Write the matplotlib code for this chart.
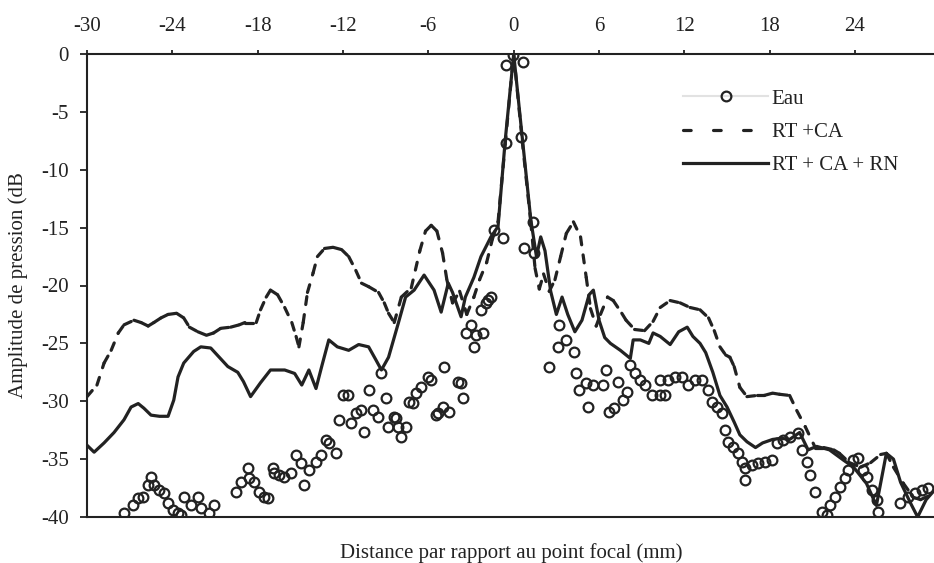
import numpy as np
import matplotlib
matplotlib.use("Agg")
import matplotlib.pyplot as plt
from matplotlib.collections import LineCollection
from matplotlib.lines import Line2D

# ------------------------------------------------------------------
# données (distance en mm, amplitude en dB)
# ------------------------------------------------------------------
x_eau = [-27.37, -26.74, -26.39, -26.04, -25.68, -25.47, -25.26, -24.91, -24.56, -24.28,
         -23.93, -23.58, -23.37, -23.16, -22.67, -22.18, -21.96, -21.40, -21.05, -19.51,
         -19.16, -18.67, -18.60, -18.25, -17.89, -17.54, -17.26, -16.91, -16.84, -16.49,
         -16.14, -15.65, -15.30, -14.95, -14.74, -14.39, -13.89, -13.54, -13.19, -12.98,
         -12.49, -12.28, -12.00, -11.65, -11.44, -11.09, -10.74, -10.53, -10.18, -9.89,
         -9.54, -9.33, -8.98, -8.84, -8.42, -8.28, -8.14, -7.93, -7.58, -7.37,
         -7.09, -6.88, -6.53, -6.04, -5.82, -5.47, -5.33, -4.98, -4.91, -4.56,
         -3.93, -3.72, -3.58, -3.37, -3.02, -2.81, -2.67, -2.32, -2.18, -1.96,
         -1.82, -1.61, -1.40, -0.77, -0.56, -0.56, -0.07, 0.49, 0.63, 0.70,
         1.33, 1.40, 2.46, 3.09, 3.16, 3.65, 4.21, 4.35, 4.56, 5.05,
         5.19, 5.61, 6.25, 6.46, 6.67, 7.02, 7.30, 7.65, 8.00, 8.21,
         8.56, 8.91, 9.26, 9.75, 10.32, 10.32, 10.67, 10.88, 11.37, 11.86,
         12.28, 12.77, 13.26, 13.68, 13.96, 14.32, 14.67, 14.88, 15.09, 15.44,
         15.79, 16.07, 16.28, 16.28, 16.77, 17.19, 17.68, 18.18, 18.53, 18.95,
         19.44, 20.00, 20.28, 20.63, 20.84, 21.19, 21.68, 22.04, 22.25, 22.60,
         22.95, 23.30, 23.51, 23.86, 24.21, 24.56, 24.84, 25.19, 25.54, 25.61,
         27.16, 27.72, 28.21, 28.70, 29.12]
y_eau = [-39.65, -38.96, -38.36, -38.27, -37.24, -36.54, -37.24, -37.67, -37.93, -38.79,
         -39.40, -39.65, -39.83, -38.27, -38.96, -38.27, -39.22, -39.65, -38.96, -37.84,
         -36.98, -35.77, -36.63, -36.98, -37.84, -38.27, -38.36, -35.77, -36.20, -36.37,
         -36.54, -36.20, -34.64, -35.33, -37.24, -35.94, -35.25, -34.64, -33.35, -33.61,
         -34.47, -31.62, -29.46, -29.46, -31.88, -31.02, -30.76, -32.66, -29.03, -30.76,
         -31.36, -27.56, -29.72, -32.22, -31.36, -31.45, -32.22, -33.09, -32.22, -30.06,
         -30.15, -29.29, -28.77, -27.91, -28.16, -31.19, -31.02, -30.50, -27.04, -30.93,
         -28.34, -28.40, -29.72, -24.10, -23.41, -25.31, -24.28, -22.12, -24.10, -21.51,
         -21.25, -20.99, -15.21, -15.90, -7.69, -0.95, -0.09, -7.17, -0.69, -16.76,
         -14.51, -17.19, -27.04, -25.31, -23.41, -24.71, -25.75, -27.56, -29.03, -28.42,
         -30.50, -28.60, -28.60, -27.30, -30.93, -30.58, -28.34, -29.89, -29.20, -26.87,
         -27.56, -28.16, -28.60, -29.46, -28.16, -29.46, -29.46, -28.16, -27.91, -27.91,
         -28.60, -28.16, -28.16, -29.03, -30.06, -30.50, -31.02, -32.48, -33.52, -33.95,
         -34.47, -35.25, -35.77, -36.80, -35.51, -35.33, -35.25, -35.08, -33.61, -33.35,
         -33.09, -32.74, -34.21, -35.25, -36.37, -37.84, -39.57, -39.83, -38.96, -38.27,
         -37.41, -36.63, -35.94, -35.08, -34.90, -35.94, -36.54, -37.67, -38.53, -39.57,
         -38.79, -38.27, -37.93, -37.67, -37.49]

x_ca = [-30.0, -29.3, -28.8, -28.3, -27.8, -27.4, -26.7, -26.2, -25.7, -25.3,
        -24.8, -24.3, -23.7, -23.2, -22.8, -22.2, -21.6, -21.1, -20.6, -19.9,
        -19.3, -18.9, -18.1, -17.8, -17.4, -17.1, -16.6, -16.1, -15.6, -15.3,
        -15.1, -14.8, -14.5, -14.1, -13.8, -13.3, -12.7, -12.1, -11.6, -11.1,
        -10.7, -10.2, -9.5, -9.1, -8.8, -8.4, -7.9, -7.2, -6.6, -6.2,
        -5.8, -5.4, -5.0, -4.7, -4.3, -3.8, -3.3, -2.8, -2.4, -1.9,
        -1.5, -1.1, -0.6, 0.0, 0.6, 1.2, 1.5, 1.8, 2.1, 2.5,
        2.9, 3.3, 3.7, 4.2, 4.7, 5.1, 5.4, 5.8, 6.1, 6.6,
        7.0, 7.6, 7.9, 8.5, 9.2, 9.8, 10.3, 11.0, 11.7, 12.4,
        13.1, 13.7, 14.1, 14.5, 14.9, 15.2, 15.5, 15.9, 16.4, 17.1,
        17.6, 18.2, 18.7, 19.4, 19.9, 20.5, 21.2, 21.8, 22.5, 22.9,
        23.6, 24.4, 25.1, 25.8, 26.2, 26.7, 27.4, 28.1, 28.6, 29.5]
y_ca = [-29.6, -28.6, -26.7, -25.6, -24.1, -23.4, -23.0, -23.2, -23.5, -23.2,
        -22.8, -22.5, -22.4, -22.8, -23.6, -24.0, -24.3, -24.1, -23.7, -23.6,
        -23.4, -23.2, -23.2, -22.1, -21.0, -20.4, -20.8, -21.9, -23.2, -24.4,
        -25.3, -23.2, -20.6, -18.9, -17.5, -16.8, -16.7, -16.9, -17.5, -18.7,
        -19.8, -20.1, -20.6, -21.5, -22.4, -23.2, -21.0, -20.2, -17.0, -15.3,
        -14.8, -15.3, -17.2, -19.5, -21.5, -20.5, -22.5, -21.0, -19.5, -18.0,
        -16.0, -14.5, -7.8, 0.0, -7.5, -14.5, -18.5, -20.3, -19.0, -20.5,
        -19.5, -17.5, -15.5, -14.5, -15.8, -19.3, -22.0, -23.5, -22.5, -21.0,
        -21.3, -22.4, -23.0, -23.8, -23.9, -23.1, -21.9, -21.3, -21.5, -21.9,
        -22.1, -22.8, -23.9, -25.3, -26.0, -26.2, -27.0, -28.8, -29.6, -29.5,
        -29.5, -29.3, -29.4, -29.5, -30.8, -32.2, -34.0, -34.0, -34.2, -34.5,
        -35.3, -35.7, -35.3, -34.6, -34.5, -35.7, -37.1, -38.3, -38.5, -38.0]

x_rn = [-30.0, -29.5, -28.8, -28.1, -27.4, -26.9, -26.4, -26.0, -25.5, -24.9,
        -24.3, -23.9, -23.6, -23.2, -22.5, -22.0, -21.3, -20.7, -20.1, -19.4,
        -19.0, -18.5, -17.8, -17.1, -16.1, -15.4, -14.9, -14.4, -13.9, -13.5,
        -13.0, -12.4, -11.6, -10.9, -10.2, -9.7, -9.3, -8.8, -8.1, -7.6,
        -7.0, -6.3, -5.6, -5.1, -4.6, -4.3, -3.7, -3.4, -2.8, -2.3,
        -1.6, -1.1, -0.6, 0.0, 0.6, 1.2, 1.6, 1.9, 2.2, 2.6,
        3.0, 3.4, 3.8, 4.3, 4.8, 5.3, 5.6, 6.0, 6.4, 6.8,
        7.5, 8.2, 8.4, 8.9, 9.5, 9.8, 10.3, 11.0, 11.6, 12.2,
        12.6, 13.1, 13.5, 14.0, 14.5, 15.0, 15.5, 15.9, 16.4, 17.0,
        17.5, 18.2, 18.8, 19.4, 20.1, 20.7, 21.3, 22.2, 23.2, 23.9,
        24.8, 25.5, 26.2, 26.7, 27.2, 27.9, 28.4, 29.0, 29.5]
y_rn = [-33.8, -34.4, -33.6, -32.7, -31.6, -30.5, -30.2, -30.6, -31.2, -31.3,
        -31.3, -29.9, -27.9, -26.7, -25.7, -25.3, -25.4, -26.2, -27.0, -27.5,
        -28.3, -29.6, -28.4, -27.3, -27.3, -27.6, -28.6, -27.3, -28.9, -27.0,
        -24.7, -25.3, -25.6, -25.1, -25.3, -26.4, -27.3, -26.2, -23.2, -21.0,
        -20.4, -19.1, -20.4, -22.3, -19.8, -20.6, -22.7, -21.0, -19.3, -17.5,
        -15.8, -14.9, -7.5, 0.0, -7.2, -14.3, -17.5, -15.8, -17.0, -20.5,
        -22.5, -21.0, -22.5, -24.0, -23.0, -20.8, -20.4, -23.0, -24.5, -25.0,
        -25.6, -26.3, -24.7, -24.7, -25.0, -24.1, -24.4, -25.1, -24.0, -23.6,
        -24.4, -25.0, -25.8, -27.5, -29.5, -30.5, -31.8, -32.9, -33.5, -34.0,
        -33.6, -33.3, -33.2, -33.3, -32.7, -34.2, -33.9, -34.2, -35.1, -35.7,
        -37.1, -39.0, -34.5, -35.0, -37.0, -38.8, -40.0, -38.5, -37.8]

x_ticks = [-30, -24, -18, -12, -6, 0, 6, 12, 18, 24]
y_ticks = [0, -5, -10, -15, -20, -25, -30, -35, -40]
labels = ['Eau', 'RT +CA', 'RT + CA + RN']

# ------------------------------------------------------------------
plt.rcParams['font.family'] = ['Liberation Serif', 'DejaVu Serif']
plt.rcParams['axes.unicode_minus'] = False
INK = '#222222'
LW = 2.3

fig = plt.figure(figsize=(9.34, 5.63), dpi=100)
ax = fig.add_axes([87 / 934, 1 - 517 / 563, 1 - 87 / 934, (517 - 54) / 563])

# Eau : cercles
ax.plot(x_eau, y_eau, linestyle='none', marker='o', ms=7, mfc='none',
        mec=INK, mew=1.6, zorder=3)

# RT +CA : tirets recommencés à chaque segment (comme Excel)
pts = np.column_stack([x_ca, y_ca])
segs = np.stack([pts[:-1], pts[1:]], axis=1)
lc = LineCollection(segs, colors=INK, linewidths=LW,
                    linestyles=[(0, (2.5, 3.2))], capstyle='round', zorder=2)
ax.add_collection(lc)

# RT + CA + RN : trait plein
ax.plot(x_rn, y_rn, color=INK, lw=LW, solid_joinstyle='round', zorder=2)

# axes
ax.set_xlim(-30, 29.55)
ax.set_ylim(-40, 0)
ax.xaxis.tick_top()
ax.set_xticks(x_ticks)
ax.set_yticks(y_ticks)
ax.tick_params(axis='x', direction='out', length=3, width=1.3, pad=10,
               labelsize=15, colors=INK)
ax.tick_params(axis='y', direction='out', length=5, width=1.3, pad=8,
               labelsize=15, colors=INK)
ax.spines['right'].set_visible(False)
for s in ['left', 'top', 'bottom']:
    ax.spines[s].set_linewidth(1.5)
    ax.spines[s].set_color(INK)

fig.text(511 / 934, 1 - 553 / 563, 'Distance par rapport au point focal (mm)',
         ha='center', va='center', fontsize=15, color=INK)
fig.text(18 / 934, 1 - 285 / 563, 'Amplitude de pression (dB',
         ha='center', va='center', rotation=90, fontsize=15, color=INK)

# légende
h_eau = Line2D([], [], color='#e2e2e2', lw=1.5, marker='o', ms=7, mfc='none',
               mec=INK, mew=1.6)
h_ca = Line2D([], [], color=INK, lw=LW, linestyle=(0, (2.4, 7.0)),
              dash_capstyle='round')
h_rn = Line2D([], [], color=INK, lw=LW)
fig.legend([h_eau, h_ca, h_rn], labels, loc='upper left',
           bbox_to_anchor=(683 / 934, 1 - 89 / 563), frameon=False,
           fontsize=15, handlelength=4.1, handletextpad=0.15,
           labelspacing=0.66, borderpad=0, borderaxespad=0,
           labelcolor=INK)

fig.savefig('out.png', dpi=100)
